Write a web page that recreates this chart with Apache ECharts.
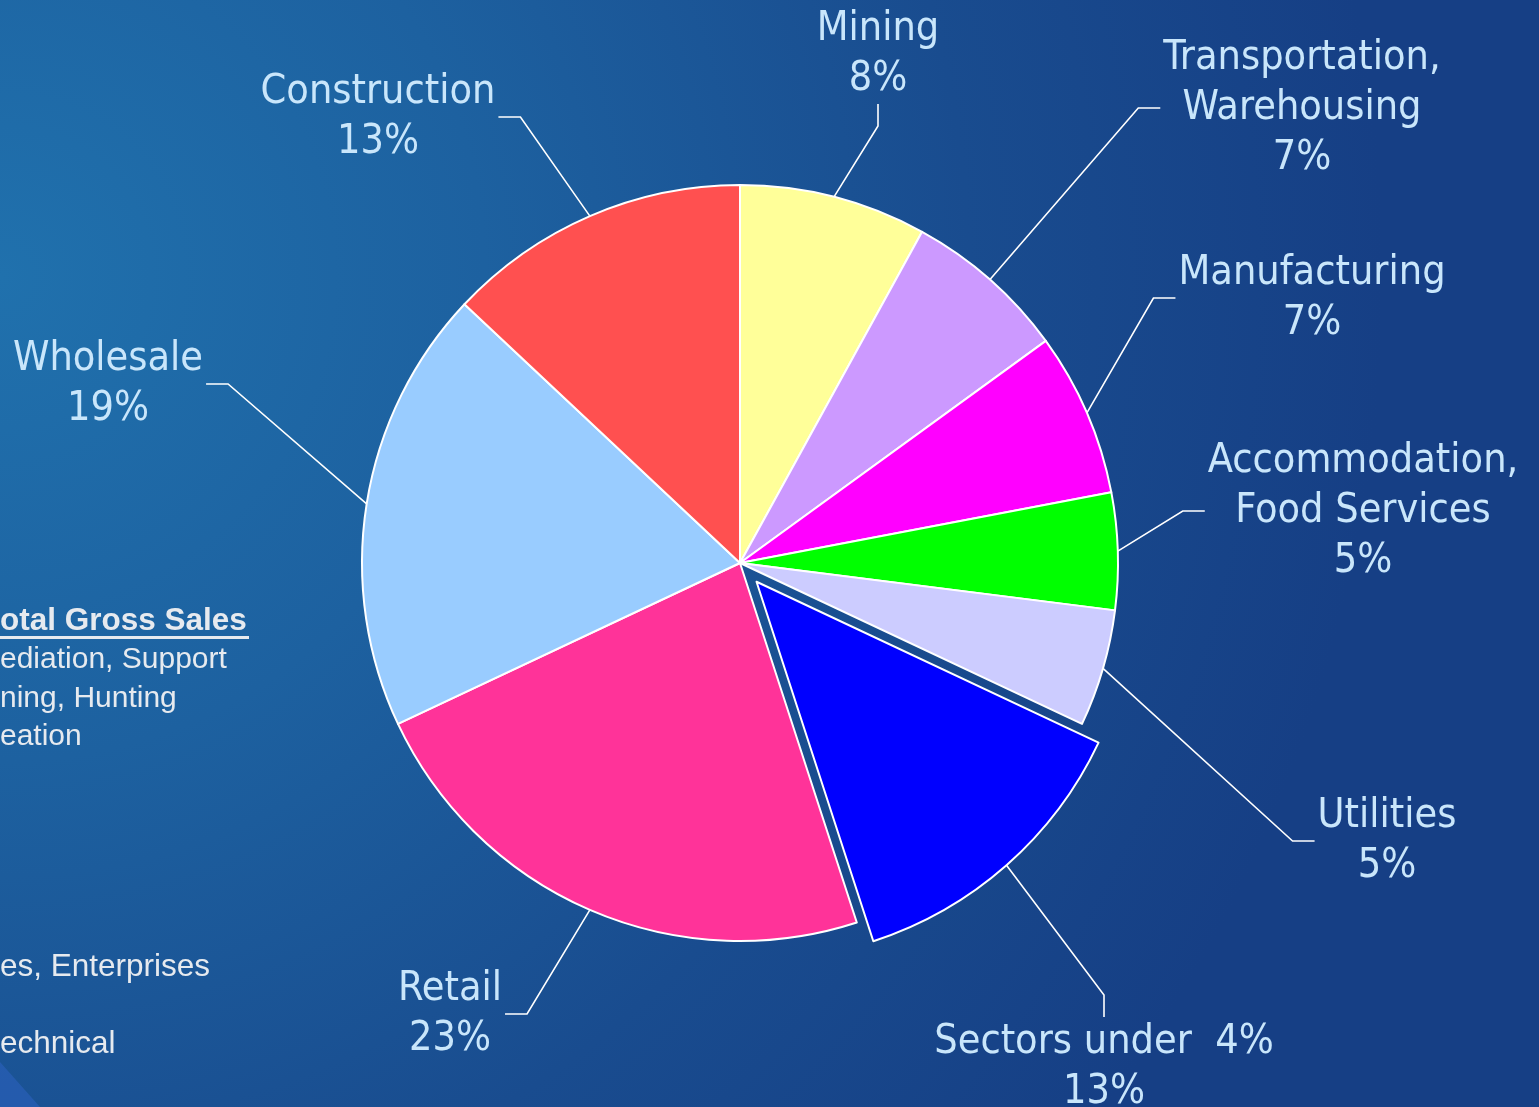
<!DOCTYPE html>
<html>
<head>
<meta charset="utf-8">
<script src="https://cdn.jsdelivr.net/npm/echarts@6/dist/echarts.min.js"></script>
<style>
  html, body { margin: 0; padding: 0; background: #1a4f92; }
  #chart { width: 1539px; height: 1107px; }
</style>
</head>
<body>
<div id="chart"></div>
<script>
// ---- data ----
const categories = [
  'Mining',
  'Transportation,\nWarehousing',
  'Manufacturing',
  'Accommodation,\nFood Services',
  'Utilities',
  'Sectors under  4%',
  'Retail',
  'Wholesale',
  'Construction'
];
const shares = [8, 7, 7, 5, 5, 13, 23, 19, 13];
const explodedCategory = 'Sectors under  4%';
const sliceColors = ['#FFFF99', '#CC99FF', '#FF00FF', '#00FF00', '#CCCCFF', '#0000FF', '#FF3399', '#99CCFF', '#FF5050'];

// side text fragments (partly cut off at the left edge of the slide)
const sideTitle = 'otal Gross Sales';
const sideLines = ['ediation, Support', 'ning, Hunting', 'eation'];
const sideLinesLower = ['es, Enterprises', '', 'echnical'];

// ---- layout ----
const pieCenter = [740, 563];
const pieRadius = 378;
const startAngle = 90;
const explodeOffset = 25;
const labelCenters = [
  [878, 54], [1302, 108], [1312, 298], [1363, 511], [1387, 841],
  [1104, 1067], [450, 1014], [108, 384], [378, 117]
];

const chart = echarts.init(document.getElementById('chart'), null, { renderer: 'canvas' });

const explodedIndex = categories.indexOf(explodedCategory);
const total = shares.reduce((a, b) => a + b, 0);
const before = shares.slice(0, explodedIndex).reduce((a, b) => a + b, 0);
const midFrac = (before + shares[explodedIndex] / 2) / total;
const midRad = (startAngle - midFrac * 360) * Math.PI / 180;
const explodedCenter = [
  pieCenter[0] + Math.cos(midRad) * explodeOffset,
  pieCenter[1] - Math.sin(midRad) * explodeOffset
];

const hidden = { color: 'rgba(0,0,0,0)', borderWidth: 0 };
function makeData(showExploded) {
  return categories.map((c, i) => {
    const visible = (i === explodedIndex) === showExploded;
    return {
      name: c,
      value: shares[i],
      itemStyle: visible ? { color: sliceColors[i] } : hidden,
      label: { show: visible },
      labelLine: { show: visible }
    };
  });
}

const sideFont = '"Liberation Sans", Arial, sans-serif';
const sideColor = '#e6eaef';
const graphics = [];
graphics.push({
  type: 'text', left: 0, top: 605, z: 10,
  style: { text: sideTitle, fill: sideColor, font: 'bold 31.5px ' + sideFont }
});
graphics.push({
  type: 'rect', shape: { x: 0, y: 636, width: 249, height: 3 }, z: 10,
  style: { fill: sideColor }
});
sideLines.forEach((t, i) => {
  graphics.push({
    type: 'text', left: 0, top: 645 + i * 38.5, z: 10,
    style: { text: t, fill: sideColor, font: '30px ' + sideFont }
  });
});
sideLinesLower.forEach((t, i) => {
  if (!t) return;
  graphics.push({
    type: 'text', left: 0, top: 951 + i * 38.5, z: 10,
    style: { text: t, fill: sideColor, font: '31.5px ' + sideFont }
  });
});
graphics.push({
  type: 'polygon', z: 1,
  shape: { points: [[0, 1062], [40, 1107], [0, 1107]] },
  style: { fill: '#2a5fb8', opacity: 0.7 }
});

const commonSeries = {
  type: 'pie',
  radius: pieRadius,
  startAngle: startAngle,
  clockwise: true,
  avoidLabelOverlap: false,
  silent: true,
  emphasis: { disabled: true },
  itemStyle: { borderColor: '#ffffff', borderWidth: 2 },
  label: {
    position: 'outside',
    formatter: p => p.name + '\n' + p.value + '%',
    color: '#c9e6fb',
    fontFamily: 'Tahoma, "DejaVu Sans Condensed", "DejaVu Sans", sans-serif',
    fontSize: 41,
    lineHeight: 50,
    align: 'center',
    padding: [0, 3]
  },
  labelLine: {
    length: 20,
    length2: 22,
    smooth: false,
    minTurnAngle: 0,
    lineStyle: { color: '#ffffff', width: 1.6 }
  },
  labelLayout: function (params) {
    const c = labelCenters[params.dataIndex];
    return { x: c[0], y: c[1], align: 'center', verticalAlign: 'middle' };
  }
};

const option = {
  backgroundColor: {
    type: 'radial', x: 0.0, y: 0.25, r: 1.25,
    colorStops: [
      { offset: 0, color: '#2071ad' },
      { offset: 0.35, color: '#1d61a0' },
      { offset: 0.7, color: '#194c8f' },
      { offset: 1, color: '#163f85' }
    ]
  },
  animation: false,
  graphic: graphics,
  series: [
    Object.assign({}, commonSeries, { center: pieCenter, data: makeData(false) }),
    Object.assign({}, commonSeries, { center: explodedCenter, data: makeData(true) })
  ]
};
chart.setOption(option);
</script>
</body>
</html>
